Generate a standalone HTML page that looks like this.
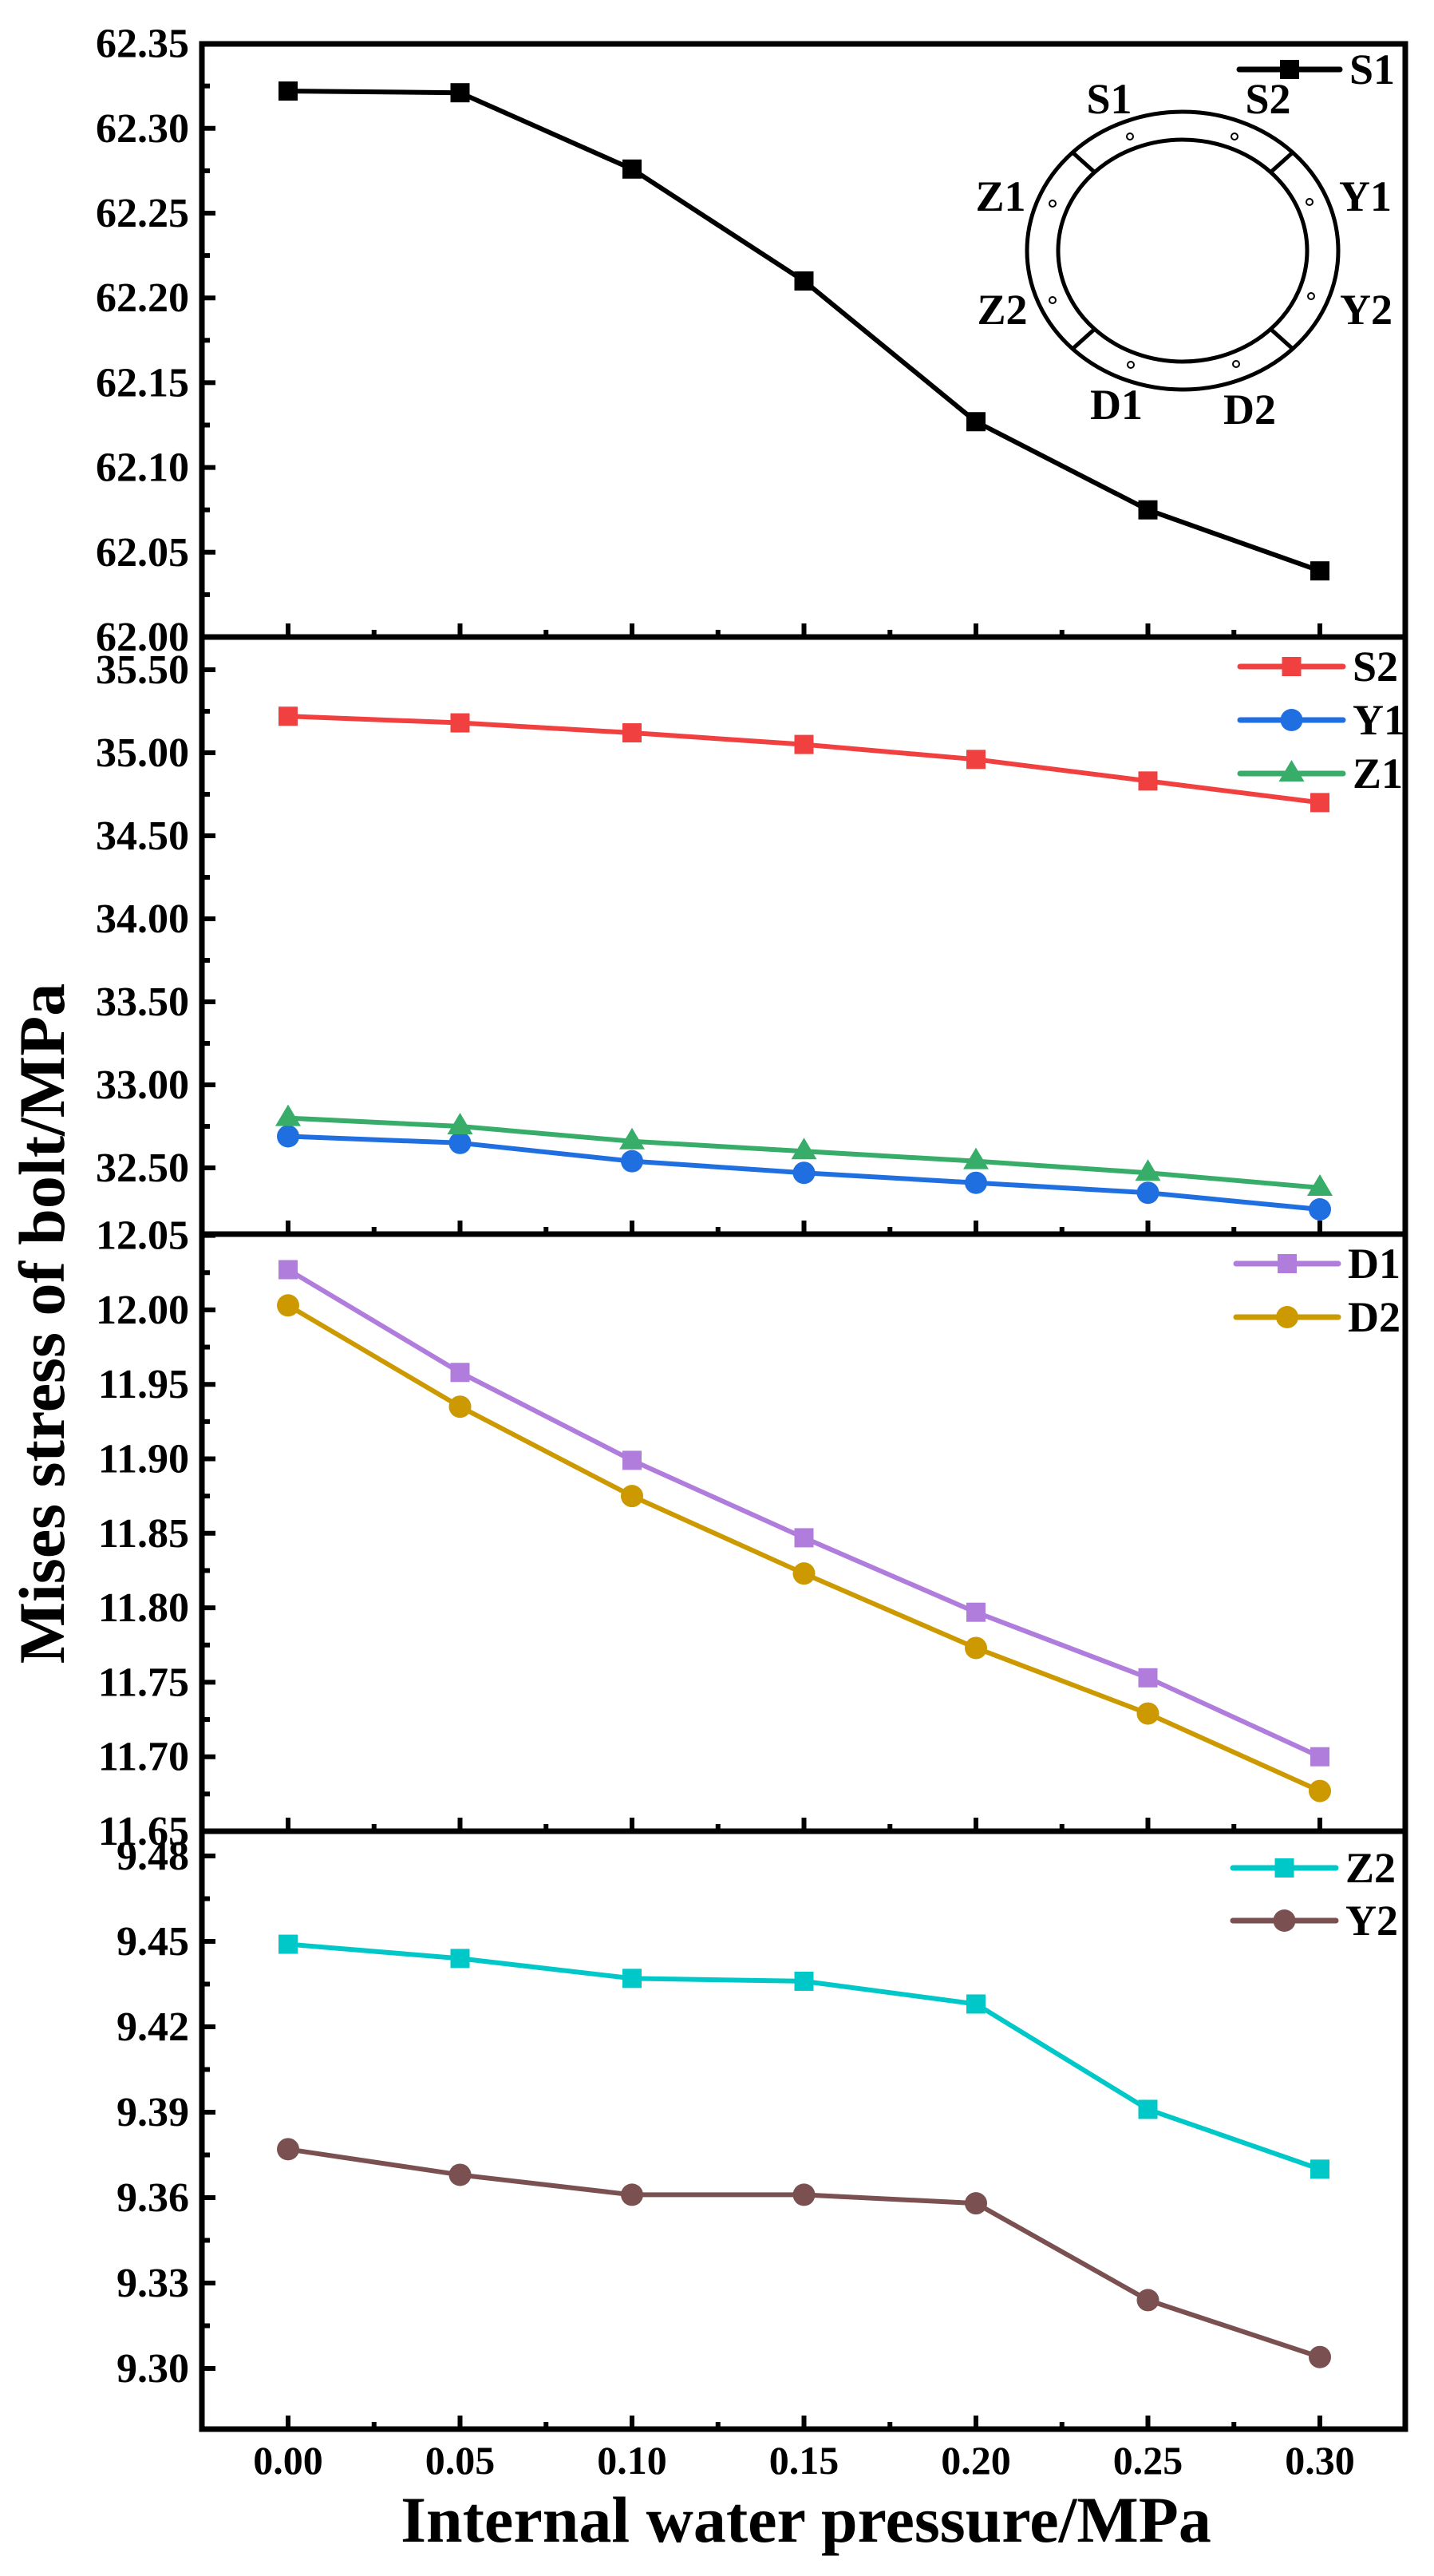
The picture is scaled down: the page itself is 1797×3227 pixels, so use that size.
<!DOCTYPE html>
<html><head><meta charset="utf-8">
<style>
html,body{margin:0;padding:0;background:#fff;}
svg{display:block;font-family:"Liberation Serif",serif;font-weight:bold;}
</style></head>
<body>
<svg id="chart" width="1797" height="3227" viewBox="0 0 1797 3227" xmlns="http://www.w3.org/2000/svg">
<g id="panels"></g>
<g id="diagram"></g>
<text x="1010" y="3184" font-size="82" text-anchor="middle">Internal water pressure/MPa</text>
<text transform="translate(80,1658) rotate(-90)" font-size="82" text-anchor="middle">Mises stress of bolt/MPa</text>
</svg>
<script>
const xValues = [0, 0.05, 0.10, 0.15, 0.20, 0.25, 0.30];
const xTickLabels = ["0.00","0.05","0.10","0.15","0.20","0.25","0.30"];
const s1 = [62.322, 62.321, 62.276, 62.210, 62.127, 62.075, 62.039];
const s2 = [35.22, 35.18, 35.12, 35.05, 34.96, 34.83, 34.70];
const y1 = [32.69, 32.65, 32.54, 32.47, 32.41, 32.35, 32.25];
const z1 = [32.80, 32.75, 32.66, 32.60, 32.54, 32.47, 32.38];
const d1 = [12.027, 11.958, 11.899, 11.847, 11.797, 11.753, 11.700];
const d2 = [12.003, 11.935, 11.875, 11.823, 11.773, 11.729, 11.677];
const z2 = [9.449, 9.444, 9.437, 9.436, 9.428, 9.391, 9.370];
const y2 = [9.377, 9.368, 9.361, 9.361, 9.358, 9.324, 9.304];
const p1Ticks = ["62.00","62.05","62.10","62.15","62.20","62.25","62.30","62.35"];
const p2Ticks = ["32.50","33.00","33.50","34.00","34.50","35.00","35.50"];
const p3Ticks = ["11.65","11.70","11.75","11.80","11.85","11.90","11.95","12.00","12.05"];
const p4Ticks = ["9.30","9.33","9.36","9.39","9.42","9.45","9.48"];

const NS = "http://www.w3.org/2000/svg";
const L = 253, R = 1761;
const x = v => 361 + (v - 0) / 0.05 * 215.5;
function mk(tag, attrs, parent){ const e = document.createElementNS(NS, tag); for (const k in attrs) e.setAttribute(k, attrs[k]); parent.appendChild(e); return e; }

const panels = [
  {top:55, bot:798, v0:62.00, y0:798, pxPer:106.2/0.05, ticks:p1Ticks, minorStep:0.025,
   series:[{name:"S1", data:s1, color:"#000000", marker:"square"}],
   legend:{x1:1553, x2:1679, y:87, dy:67}},
  {top:798, bot:1546, v0:32.50, y0:1463, pxPer:208, ticks:p2Ticks, minorStep:0.25,
   series:[{name:"S2", data:s2, color:"#f04040", marker:"square"},
           {name:"Y1", data:y1, color:"#1f6fe0", marker:"circle"},
           {name:"Z1", data:z1, color:"#38ad6a", marker:"triangle"}],
   legend:{x1:1554, x2:1683, y:835, dy:67}},
  {top:1546, bot:2294, v0:11.65, y0:2294, pxPer:93.3/0.05, ticks:p3Ticks, minorStep:0.025,
   series:[{name:"D1", data:d1, color:"#b07ddd", marker:"square"},
           {name:"D2", data:d2, color:"#cc9a00", marker:"circle"}],
   legend:{x1:1549, x2:1677, y:1583, dy:67}},
  {top:2294, bot:3043, v0:9.30, y0:2967, pxPer:107/0.03, ticks:p4Ticks, minorStep:0.015,
   series:[{name:"Z2", data:z2, color:"#00c8c8", marker:"square"},
           {name:"Y2", data:y2, color:"#7a5050", marker:"circle"}],
   legend:{x1:1545, x2:1674, y:2340, dy:66}}
];

const root = document.getElementById("panels");
function marker(g, type, cx, cy, color, name){
  let m;
  if (type === "square") m = mk("rect", {x:cx-12, y:cy-12, width:24, height:24, fill:color}, g);
  else if (type === "circle") m = mk("circle", {cx:cx, cy:cy, r:14, fill:color}, g);
  else m = mk("polygon", {points:`${cx},${cy-17} ${cx-16},${cy+10} ${cx+16},${cy+10}`, fill:color}, g);
  
  
}
panels.forEach((p, i) => {
  const g = mk("g", {}, root);
  
  
  const yOf = v => p.y0 - (v - p.v0) * p.pxPer;
  const fr = mk("rect", {x:L, y:p.top, width:R-L, height:p.bot-p.top, fill:"none", stroke:"#000", "stroke-width":7}, g);
  
  
  p.ticks.forEach(t => {
    const v = parseFloat(t), yy = yOf(v);
    mk("line", {x1:L, x2:L+17, y1:yy, y2:yy, stroke:"#000", "stroke-width":6}, g);
    const tx = mk("text", {x:237, y:yy+17, "font-size":52, "text-anchor":"end"}, g);
    tx.textContent = t;
    
    
    const vm = v + p.minorStep, ym = yOf(vm);
    if (ym > p.top + 4 && ym < p.bot - 4) mk("line", {x1:L, x2:L+10, y1:ym, y2:ym, stroke:"#000", "stroke-width":6}, g);
  });
  xValues.forEach((v, k) => {
    mk("line", {x1:x(v), x2:x(v), y1:p.bot, y2:p.bot-17, stroke:"#000", "stroke-width":6}, g);
    if (k < xValues.length - 1) { const xm = x(v + 0.025); mk("line", {x1:xm, x2:xm, y1:p.bot, y2:p.bot-9, stroke:"#000", "stroke-width":6}, g); }
  });
  p.series.forEach((s, si) => {
    const pts = s.data.map((v, k) => x(xValues[k]) + "," + yOf(v)).join(" ");
    const pl = mk("polyline", {points:pts, fill:"none", stroke:s.color, "stroke-width":6, "stroke-linejoin":"round"}, g);
    
    
    s.data.forEach((v, k) => marker(g, s.marker, x(xValues[k]), yOf(v), s.color, s.name));
    const ly = p.legend.y + si * p.legend.dy;
    const lg = mk("g", {}, g);
    
    
    mk("line", {x1:p.legend.x1, x2:p.legend.x2, y1:ly, y2:ly, stroke:s.color, "stroke-width":7, "stroke-linecap":"round"}, lg);
    marker(lg, s.marker, (p.legend.x1 + p.legend.x2)/2, ly, s.color, s.name + '-legend');
    const lt = mk("text", {x:p.legend.x2 + 12, y:ly + 18, "font-size":54}, lg);
    lt.textContent = s.name;
  });
});
xValues.forEach((v, k) => {
  const t = mk("text", {x:x(v), y:3099, "font-size":50, "text-anchor":"middle"}, root);
  t.textContent = xTickLabels[k];
  
  
});
const dg = document.getElementById("diagram");
const cx = 1482, cy = 314;
mk("ellipse", {cx:cx, cy:cy, rx:195, ry:174, fill:"none", stroke:"#000", "stroke-width":5}, dg);
mk("ellipse", {cx:cx, cy:cy, rx:156, ry:139, fill:"none", stroke:"#000", "stroke-width":5}, dg);
[45, 135, 225, 315].forEach(a => {
  const r = a * Math.PI / 180;
  mk("line", {x1:cx + 156*Math.cos(r), y1:cy + 139*Math.sin(r), x2:cx + 195*Math.cos(r), y2:cy + 174*Math.sin(r), stroke:"#000", "stroke-width":5}, dg);
});
[[1416,171],[1547,171],[1319,255],[1641,253],[1319,376],[1643,371],[1417,457],[1549,456]].forEach(h => {
  mk("circle", {cx:h[0], cy:h[1], r:4, fill:"#fff", stroke:"#000", "stroke-width":2}, dg);
});
[["S1",1390,142],["S2",1589,142],["Z1",1254,264],["Y1",1711,264],["Z2",1256,406],["Y2",1712,406],["D1",1399,525],["D2",1566,531]].forEach(l => {
  const t = mk("text", {x:l[1], y:l[2], "font-size":54, "text-anchor":"middle"}, dg);
  t.textContent = l[0];
  
  
});
</script>
</body></html>
